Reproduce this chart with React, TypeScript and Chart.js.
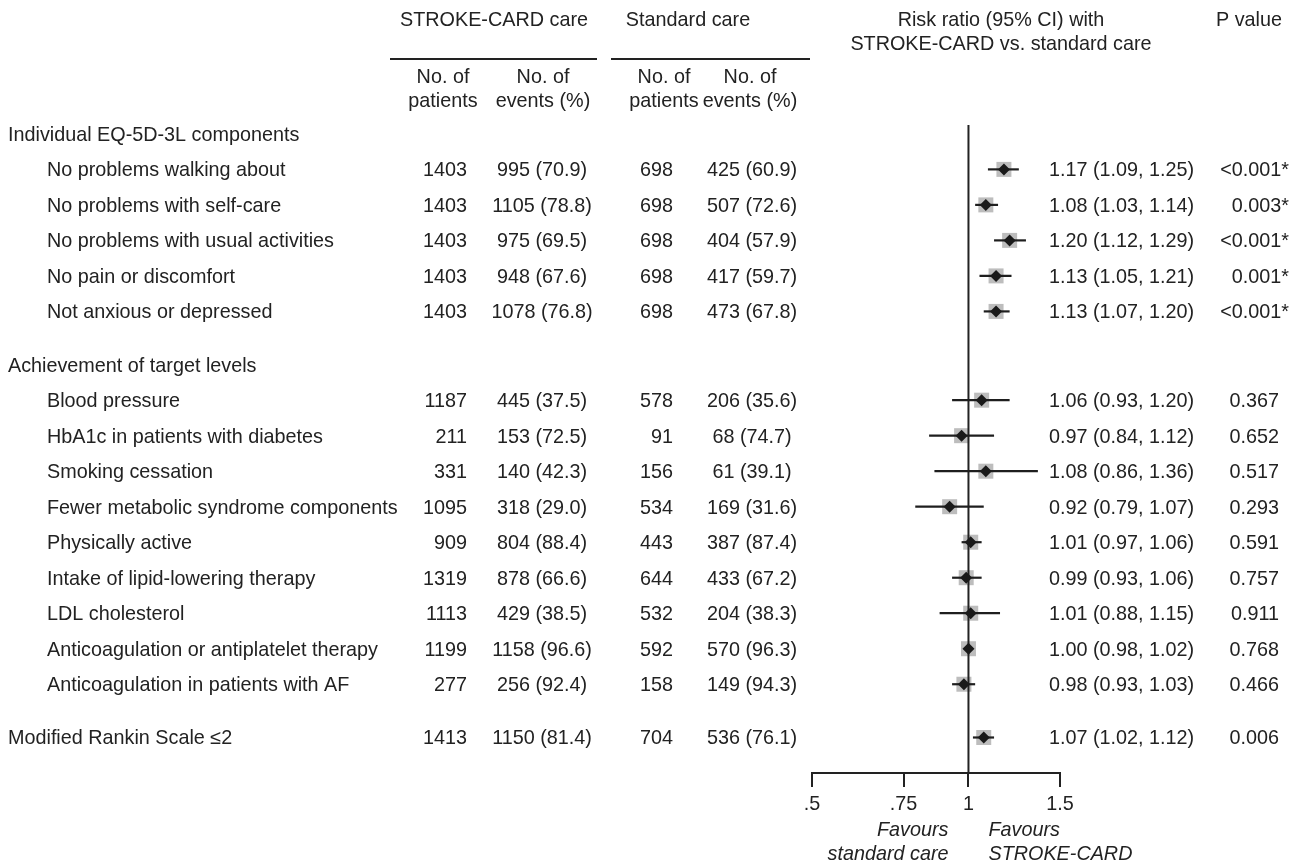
import React, { useEffect, useRef } from "react";
import { Chart, registerables } from "chart.js";

Chart.register(...registerables);

// ---------- data ----------
const groupHeaders = ["Individual EQ-5D-3L components", "Achievement of target levels", ""];
const categories = [
  "No problems walking about",
  "No problems with self-care",
  "No problems with usual activities",
  "No pain or discomfort",
  "Not anxious or depressed",
  "Blood pressure",
  "HbA1c in patients with diabetes",
  "Smoking cessation",
  "Fewer metabolic syndrome components",
  "Physically active",
  "Intake of lipid-lowering therapy",
  "LDL cholesterol",
  "Anticoagulation or antiplatelet therapy",
  "Anticoagulation in patients with AF",
  "Modified Rankin Scale ≤2",
];
const groupOf = [0, 0, 0, 0, 0, 1, 1, 1, 1, 1, 1, 1, 1, 1, 2];
const strokeN = [1403, 1403, 1403, 1403, 1403, 1187, 211, 331, 1095, 909, 1319, 1113, 1199, 277, 1413];
const strokeEvents = [995, 1105, 975, 948, 1078, 445, 153, 140, 318, 804, 878, 429, 1158, 256, 1150];
const strokePct = [70.9, 78.8, 69.5, 67.6, 76.8, 37.5, 72.5, 42.3, 29.0, 88.4, 66.6, 38.5, 96.6, 92.4, 81.4];
const standardN = [698, 698, 698, 698, 698, 578, 91, 156, 534, 443, 644, 532, 592, 158, 704];
const standardEvents = [425, 507, 404, 417, 473, 206, 68, 61, 169, 387, 433, 204, 570, 149, 536];
const standardPct = [60.9, 72.6, 57.9, 59.7, 67.8, 35.6, 74.7, 39.1, 31.6, 87.4, 67.2, 38.3, 96.3, 94.3, 76.1];
const riskRatio = [1.17, 1.08, 1.2, 1.13, 1.13, 1.06, 0.97, 1.08, 0.92, 1.01, 0.99, 1.01, 1.0, 0.98, 1.07];
const ciLow = [1.09, 1.03, 1.12, 1.05, 1.07, 0.93, 0.84, 0.86, 0.79, 0.97, 0.93, 0.88, 0.98, 0.93, 1.02];
const ciHigh = [1.25, 1.14, 1.29, 1.21, 1.2, 1.2, 1.12, 1.36, 1.07, 1.06, 1.06, 1.15, 1.02, 1.03, 1.12];
const pValues = [
  "<0.001*", "0.003*", "<0.001*", "0.001*", "<0.001*",
  "0.367", "0.652", "0.517", "0.293", "0.591", "0.757", "0.911", "0.768", "0.466",
  "0.006",
];
const xTickValues = [0.5, 0.75, 1, 1.5];
const xTickLabels = [".5", ".75", "1", "1.5"];

// ---------- row layout (derived from group structure) ----------
type HeaderRow = { text: string; pos: number };
const headerRows: HeaderRow[] = [];
const itemPos: number[] = [];
const itemIndented: boolean[] = [];
let cursor = 0;
groupHeaders.forEach((h, g) => {
  if (g > 0) cursor += 0.5;
  if (h) {
    headerRows.push({ text: h, pos: cursor });
    cursor += 1;
  }
  categories.forEach((_, i) => {
    if (groupOf[i] === g) {
      itemPos[i] = cursor;
      itemIndented[i] = !!h;
      cursor += 1;
    }
  });
});
const Y_MIN = -0.25;
const Y_MAX = cursor;

const INK = "#222222";
const FONT_FAMILY = '"Liberation Sans", Arial, Helvetica, sans-serif';
const FS = 19.8;
const TEXT_DY = 1.5;

const fmt1 = (v: number) => v.toFixed(1);
const fmt2 = (v: number) => v.toFixed(2);

const textPlugin = {
  id: "forestText",
  afterDraw(chart: any) {
    const ctx: CanvasRenderingContext2D = chart.ctx;
    const ys = chart.scales.y;
    const xs = chart.scales.x;
    ctx.save();
    ctx.fillStyle = INK;
    ctx.strokeStyle = INK;
    ctx.font = `${FS}px ${FONT_FAMILY}`;
    ctx.textBaseline = "middle";

    // column headers
    ctx.textAlign = "center";
    ctx.fillText("STROKE-CARD care", 494, 21);
    ctx.fillText("Standard care", 688, 21);
    ctx.fillText("Risk ratio (95% CI) with", 1001, 21);
    ctx.fillText("STROKE-CARD vs. standard care", 1001, 45);
    ctx.textAlign = "right";
    ctx.fillText("P value", 1282, 21);
    ctx.textAlign = "center";
    const subCols = [
      [443, "No. of", "patients"],
      [543, "No. of", "events (%)"],
      [664, "No. of", "patients"],
      [750, "No. of", "events (%)"],
    ] as const;
    subCols.forEach(([cx, a, b]) => {
      ctx.fillText(a, cx, 78);
      ctx.fillText(b, cx, 102);
    });
    ctx.lineWidth = 2;
    ctx.beginPath();
    ctx.moveTo(390, 59);
    ctx.lineTo(597, 59);
    ctx.moveTo(611, 59);
    ctx.lineTo(810, 59);
    ctx.stroke();

    // group headers
    ctx.textAlign = "left";
    headerRows.forEach((h) => {
      ctx.fillText(h.text, 8, ys.getPixelForValue(h.pos) + TEXT_DY);
    });

    // item rows
    categories.forEach((name, i) => {
      const py = ys.getPixelForValue(itemPos[i]) + TEXT_DY;
      ctx.textAlign = "left";
      ctx.fillText(name, itemIndented[i] ? 47 : 8, py);
      ctx.textAlign = "right";
      ctx.fillText(String(strokeN[i]), 467, py);
      ctx.fillText(String(standardN[i]), 673, py);
      ctx.textAlign = "center";
      ctx.fillText(`${strokeEvents[i]} (${fmt1(strokePct[i])})`, 542, py);
      ctx.fillText(`${standardEvents[i]} (${fmt1(standardPct[i])})`, 752, py);
      ctx.textAlign = "left";
      ctx.fillText(`${fmt2(riskRatio[i])} (${fmt2(ciLow[i])}, ${fmt2(ciHigh[i])})`, 1049, py);
      ctx.textAlign = "right";
      const p = pValues[i];
      ctx.fillText(p, p.endsWith("*") ? 1289 : 1279, py);
    });

    // favours labels
    const x1 = xs.getPixelForValue(1);
    ctx.font = `italic ${FS}px ${FONT_FAMILY}`;
    ctx.textAlign = "right";
    ctx.fillText("Favours", x1 - 20, 830);
    ctx.fillText("standard care", x1 - 20, 854);
    ctx.textAlign = "left";
    ctx.fillText("Favours", x1 + 20, 830);
    ctx.fillText("STROKE-CARD", x1 + 20, 854);
    ctx.restore();
  },
};

export default function App() {
  const ref = useRef<HTMLCanvasElement | null>(null);

  useEffect(() => {
    document.body.style.margin = "0";
    document.body.style.overflow = "hidden";
    document.body.style.background = "#ffffff";
    const canvas = ref.current;
    if (!canvas) return;

    const ciSets = categories.map((_, i) => ({
      label: `ci-${i}`,
      data: [
        { x: ciLow[i], y: itemPos[i] },
        { x: ciHigh[i], y: itemPos[i] },
      ],
      showLine: true,
      borderColor: "#1e1e1e",
      borderWidth: 2.2,
      pointRadius: 0,
      order: 1,
    }));

    const chart = new Chart(canvas, {
      type: "scatter",
      data: {
        datasets: [
          {
            label: "estimate",
            data: riskRatio.map((v, i) => ({ x: v, y: itemPos[i] })),
            pointStyle: "rectRot",
            pointRadius: 6,
            backgroundColor: "#1a1a1a",
            borderWidth: 0,
            order: 0,
          },
          ...ciSets,
          {
            label: "null",
            data: [
              { x: 1, y: Y_MIN },
              { x: 1, y: Y_MAX },
            ],
            showLine: true,
            borderColor: INK,
            borderWidth: 2,
            pointRadius: 0,
            order: 2,
          },
          {
            label: "box",
            data: riskRatio.map((v, i) => ({ x: v, y: itemPos[i] })),
            pointStyle: "rect",
            pointRadius: 10.6,
            backgroundColor: "#bdbdbd",
            borderWidth: 0,
            order: 3,
          },
        ] as any,
      },
      options: {
        animation: false,
        responsive: false,
        maintainAspectRatio: false,
        layout: { padding: { left: 812, right: 243, top: 125, bottom: 0 } },
        plugins: {
          legend: { display: false },
          tooltip: { enabled: false },
        },
        events: [],
        scales: {
          x: {
            type: "logarithmic",
            min: 0.5,
            max: 1.5,
            bounds: "data",
            afterBuildTicks: (s: any) => {
              s.ticks = xTickValues.map((v) => ({ value: v }));
            },
            afterFit: (s: any) => {
              s.height = 90;
            },
            ticks: {
              autoSkip: false,
              maxRotation: 0,
              padding: 6,
              color: INK,
              font: { family: FONT_FAMILY, size: FS },
              callback: (v: any) => {
                const k = xTickValues.indexOf(Number(v));
                return k >= 0 ? xTickLabels[k] : "";
              },
            },
            grid: {
              display: true,
              drawOnChartArea: false,
              drawTicks: true,
              tickLength: 14,
              color: INK,
              lineWidth: 2,
            },
            border: { display: true, color: INK, width: 2 },
          },
          y: {
            type: "linear",
            reverse: true,
            min: Y_MIN,
            max: Y_MAX,
            display: false,
          },
        },
      } as any,
      plugins: [textPlugin],
    });
    return () => chart.destroy();
  }, []);

  return <canvas ref={ref} width={1303} height={863} style={{ display: "block" }} />;
}
